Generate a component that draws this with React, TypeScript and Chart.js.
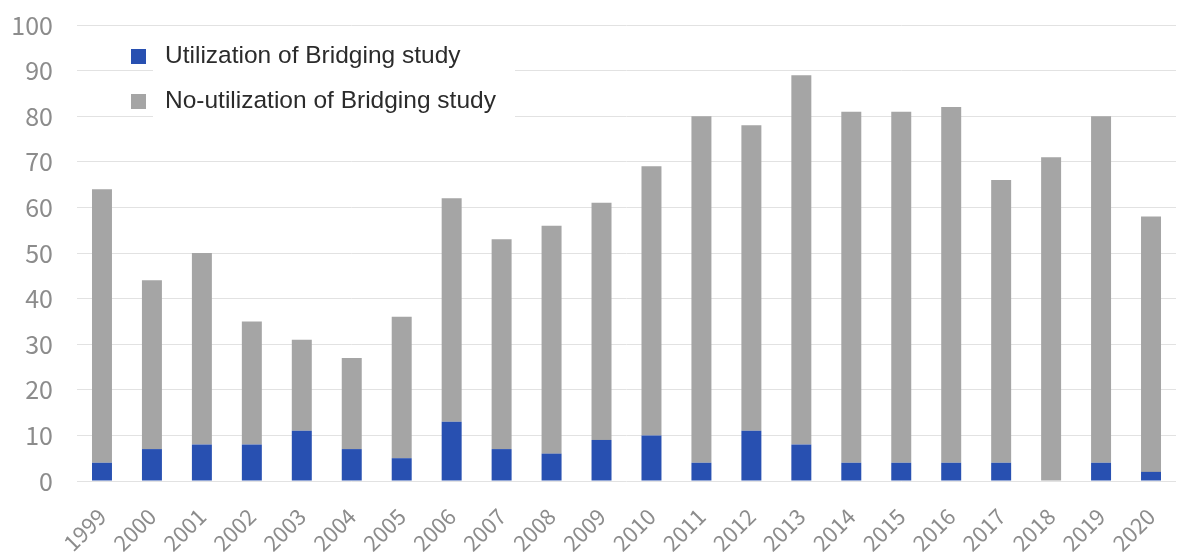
import React, { useEffect, useRef } from "react";
import { Chart, registerables } from "chart.js";

Chart.register(...registerables);

const years = [
  "1999", "2000", "2001", "2002", "2003", "2004", "2005", "2006", "2007", "2008", "2009",
  "2010", "2011", "2012", "2013", "2014", "2015", "2016", "2017", "2018", "2019", "2020",
];

// Approvals that used a bridging study
const utilization = [4, 7, 8, 8, 11, 7, 5, 13, 7, 6, 9, 10, 4, 11, 8, 4, 4, 4, 4, 0, 4, 2];

// Approvals without a bridging study
const noUtilization = [60, 37, 42, 27, 20, 20, 31, 49, 46, 50, 52, 59, 76, 67, 81, 77, 77, 78, 62, 71, 76, 56];

const yTicks = [0, 10, 20, 30, 40, 50, 60, 70, 80, 90, 100];

const BLUE = "#2850b1";
const GREY = "#a5a5a5";
const TICK_FONT = "'Noto Sans CJK JP', 'Noto Sans', sans-serif";

// Legend drawn inside the plot area, on a white panel over the gridlines
const insideLegend = {
  id: "insideLegend",
  afterDraw(chart: any) {
    const ctx = chart.ctx;
    ctx.save();
    ctx.fillStyle = "#ffffff";
    ctx.fillRect(153, 36, 362, 88);
    ctx.font = "24.5px 'Liberation Sans', Arial, sans-serif";
    ctx.textBaseline = "middle";
    ctx.textAlign = "left";
    const rows = [56, 101];
    chart.data.datasets.forEach((ds: any, i: number) => {
      const y = rows[i];
      ctx.fillStyle = ds.backgroundColor;
      ctx.fillRect(131, y - 7, 15, 15);
      ctx.fillStyle = "#2b2b2b";
      ctx.fillText(ds.label, 165, y);
    });
    ctx.restore();
  },
};

export default function App() {
  const canvasRef = useRef<HTMLCanvasElement | null>(null);

  useEffect(() => {
    document.body.style.margin = "0";
    const canvas = canvasRef.current;
    if (!canvas) return;
    const chart = new Chart(canvas, {
      type: "bar",
      data: {
        labels: years,
        datasets: [
          {
            label: "Utilization of Bridging study",
            data: utilization,
            backgroundColor: BLUE,
            categoryPercentage: 1,
            barPercentage: 0.4,
          },
          {
            label: "No-utilization of Bridging study",
            data: noUtilization,
            backgroundColor: GREY,
            categoryPercentage: 1,
            barPercentage: 0.4,
          },
        ],
      },
      options: {
        animation: false,
        responsive: false,
        maintainAspectRatio: false,
        layout: { padding: { top: 25, right: 2, bottom: 0, left: 0 } },
        plugins: {
          legend: { display: false },
          tooltip: { enabled: false },
        },
        scales: {
          x: {
            stacked: true,
            grid: { display: false },
            border: { display: false },
            ticks: {
              minRotation: 45,
              maxRotation: 45,
              padding: 14,
              color: "#8c8c8c",
              font: { size: 22, family: TICK_FONT },
            },
            afterFit(scale: any) {
              scale.height = 76;
              scale.paddingLeft = 0;
              scale.paddingRight = 0;
            },
          },
          y: {
            stacked: true,
            min: 0,
            max: 100,
            afterBuildTicks(scale: any) {
              scale.ticks = yTicks.map((v) => ({ value: v }));
            },
            grid: { color: "#e2e2e2", lineWidth: 1, drawTicks: false },
            border: { display: false },
            ticks: {
              padding: 24,
              color: "#8c8c8c",
              font: { size: 25, family: TICK_FONT },
            },
            afterFit(scale: any) {
              scale.width = 77;
              scale.paddingTop = 0;
              scale.paddingBottom = 0;
            },
          },
        },
      },
      plugins: [insideLegend],
    });
    return () => chart.destroy();
  }, []);

  return (
    <div style={{ width: 1178, height: 557, background: "#ffffff" }}>
      <canvas ref={canvasRef} width={1178} height={557} />
    </div>
  );
}
